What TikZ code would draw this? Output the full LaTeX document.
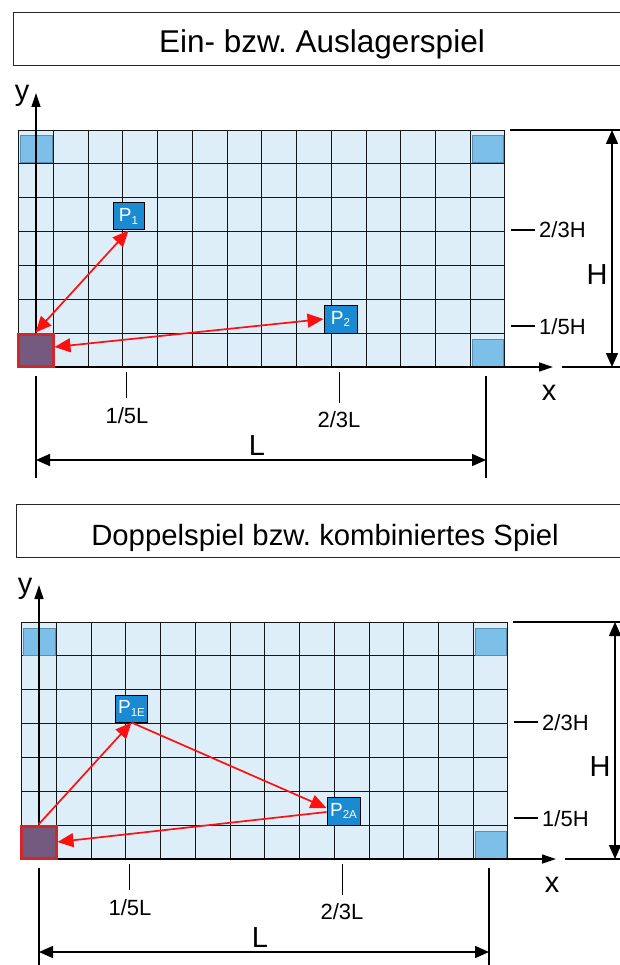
\documentclass[tikz,border=0pt]{standalone}
\usepackage{fontspec}
\setmainfont{Liberation Sans}
\usetikzlibrary{arrows.meta}
\definecolor{cellfill}{HTML}{DDEEF9}
\definecolor{gridc}{HTML}{141618}
\definecolor{cornerfill}{HTML}{7CBFE8}
\definecolor{cornerdraw}{HTML}{5B8EAE}
\definecolor{purplefill}{HTML}{735A7E}
\definecolor{purpledraw}{HTML}{D1262C}
\definecolor{pfill}{HTML}{1A8BD2}
\definecolor{redarrow}{HTML}{FF1010}
\newcommand\psub[1]{\raisebox{-2.5pt}{\fontsize{11.5}{11.5}\selectfont #1}}
\frenchspacing
\begin{document}
\begin{tikzpicture}[x=1pt,y=-1pt,
  titlebox/.style={draw=black!85,line width=1pt,minimum width=617pt,minimum height=53pt,inner sep=0pt,anchor=north west},
  titletext/.style={anchor=base,inner sep=0pt},
  gridline/.style={draw=gridc,line width=1.2pt},
  corner/.style={draw=cornerdraw,fill=cornerfill,line width=1pt,minimum width=31pt,minimum height=27pt,inner sep=0pt},
  store/.style={draw=purpledraw,fill=purplefill,line width=3pt,minimum width=34pt,minimum height=31pt,inner sep=0pt},
  pbox/.style={draw=black,fill=pfill,line width=1pt,minimum width=32pt,minimum height=27pt,inner sep=0pt,text=white,font=\fontsize{19}{19}\selectfont},
  axis/.style={line width=1.3pt,-{Triangle[length=14pt,width=9pt]}},
  dimarrow/.style={line width=1.5pt,{Triangle[length=14pt,width=12pt]}-{Triangle[length=14pt,width=12pt]}},
  extline/.style={line width=1.5pt},
  lbl/.style={font=\fontsize{22}{22}\selectfont,inner sep=0pt},
  biglbl/.style={font=\fontsize{29}{29}\selectfont,inner sep=0pt,anchor=base},
  redarr/.style={draw=redarrow,line width=1.7pt},
  redboth/.style={redarr,{Triangle[length=16pt,width=14pt]}-{Triangle[length=16pt,width=14pt]}},
  redone/.style={redarr,-{Triangle[length=16pt,width=14pt]}}
]
\useasboundingbox (0,0) rectangle (620,965);
\clip (0,0) rectangle (620,965);

\foreach \s/\dx/\dy/\tsz/\ttl in {a/0/0/31.5/{Ein- bzw. Auslagerspiel},b/3/492/29.3/{Doppelspiel bzw. kombiniertes Spiel}}{
\begin{scope}[shift={(\dx,\dy)}]
  % title
  \node[titlebox] (title\s) at (13,12) {};
  \node[titletext,font=\fontsize{\tsz}{\tsz}\selectfont] (ttext\s) at (322,53) {\ttl};
  % grid
  \fill[cellfill] (18,130) rectangle (505,367);
  \foreach \gx in {53.5,88.5,122.5,157.5,192.5,227.5,261.5,296.5,331.5,366.5,400.5,435.5,470.5}
    \draw[gridline] (\gx,130) -- (\gx,367);
  \foreach \gy in {163.5,197.5,231.5,265.5,299.5,333.5}
    \draw[gridline] (18,\gy) -- (505,\gy);
  \draw[gridline] (18.5,130.5) rectangle (504.5,366.5);
  % corner places
  \node[corner,minimum width=32pt] (tl\s) at (36,149.5) {};
  \node[corner] (tr\s) at (487.5,149.5) {};
  \node[corner] (br\s) at (487.5,352.5) {};
  % axes
  \coordinate (yo\s) at (36,367);
  \coordinate (yt\s) at (36,93);
  \coordinate (xt\s) at (553,367);
  \draw[axis] (yo\s) -- (yt\s);
  \draw[axis] (yo\s) -- (xt\s);
  \node[biglbl] (ylab\s) at (22,101) {y};
  \node[biglbl] (xlab\s) at (549,400) {x};
  % store
  \node[store,minimum width=35pt,minimum height=32pt] (st\s) at (35.5,350) {};
  % H dimension
  \coordinate (ht1\s) at (510,130); \coordinate (ht2\s) at (625,130);
  \coordinate (hb1\s) at (562,367); \coordinate (hb2\s) at (625,367);
  \draw[extline] (ht1\s) -- (ht2\s);
  \draw[extline] (hb1\s) -- (hb2\s);
  \coordinate (hu\s) at (612,130); \coordinate (hd\s) at (612,367);
  \draw[dimarrow] (hu\s) -- (hd\s);
  \node[biglbl] (hlab\s) at (597,284) {H};
  % H ticks
  \coordinate (t23a\s) at (511,230); \coordinate (t23b\s) at (535,230);
  \draw[extline] (t23a\s) -- (t23b\s);
  \node[lbl,anchor=base west] (l23h\s) at (539,238) {2/3H};
  \coordinate (t15a\s) at (511,326); \coordinate (t15b\s) at (535,326);
  \draw[extline] (t15a\s) -- (t15b\s);
  \node[lbl,anchor=base west] (l15h\s) at (539,334) {1/5H};
  % L ticks
  \coordinate (u15a\s) at (126.5,372); \coordinate (u15b\s) at (126.5,398);
  \draw[extline] (u15a\s) -- (u15b\s);
  \node[lbl,anchor=base] (l15l\s) at (127,423) {1/5L};
  \coordinate (u23a\s) at (339.5,372); \coordinate (u23b\s) at (339.5,403);
  \draw[extline] (u23a\s) -- (u23b\s);
  \node[lbl,anchor=base] (l23l\s) at (339,427) {2/3L};
  % L dimension
  \coordinate (le1\s) at (36,376); \coordinate (le2\s) at (36,478);
  \coordinate (re1\s) at (486,376); \coordinate (re2\s) at (486,478);
  \draw[extline] (le1\s) -- (le2\s);
  \draw[extline] (re1\s) -- (re2\s);
  \coordinate (ll\s) at (36,460); \coordinate (lr\s) at (486,460);
  \draw[dimarrow] (ll\s) -- (lr\s);
  \node[biglbl] (llab\s) at (257,455) {L};
\end{scope}
}

% first diagram: single cycles
\node[pbox,minimum width=31pt] (p1) at (128.5,216.5) {P\psub{1}};
\node[pbox,minimum width=33pt,minimum height=28pt] (p2) at (340.5,319) {P\psub{2}};
\draw[redboth] (sta.north) -- (p1.south);
\draw[redboth] ([yshift=3pt]sta.east) -- (p2.west);

% second diagram: double cycle
\node[pbox] (p1e) at (131.5,708.5) {P\psub{1E}};
\node[pbox,minimum width=33pt,minimum height=28pt] (p2a) at (343.5,811) {P\psub{2A}};
\draw[redone] (stb.north) -- (p1e.south);
\draw[redone] (p1e.south) -- ([yshift=3pt]p2a.west);
\draw[redone] ([yshift=-1pt]p2a.west) -- (stb.east);
\end{tikzpicture}
\end{document}
